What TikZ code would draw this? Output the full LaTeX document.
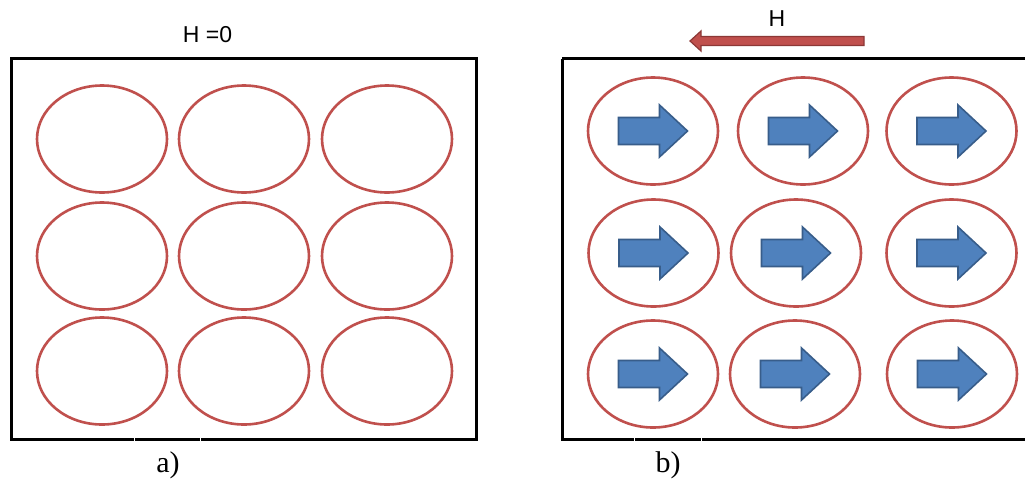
\documentclass[tikz,border=0pt]{standalone}
\usepackage{fontspec}
\setmainfont{Liberation Serif}
\newfontfamily\arialf{Liberation Sans}
\usetikzlibrary{shapes.geometric}
\definecolor{ringred}{HTML}{C0504D}
\definecolor{ringdark}{HTML}{8C3836}
\definecolor{spinblue}{HTML}{4F81BD}
\definecolor{spinedge}{HTML}{385D8A}
\begin{document}
\begin{tikzpicture}[x=1pt,y=-1pt,
  ring/.style={draw=ringred, line width=2.6pt, ellipse, minimum width=130pt, minimum height=107pt, inner sep=0pt},
  frame/.style={draw=black, line width=3pt},
  spin/.style={fill=spinblue, draw=spinedge, line width=1.6pt, line join=miter},
  field/.style={fill=ringred, draw=ringdark, line width=1.2pt},
  hlabel/.style={font=\arialf\fontsize{23}{26}\selectfont, anchor=base, inner sep=0pt},
  panlabel/.style={font=\fontsize{30}{32}\selectfont, anchor=base, inner sep=0pt},
  gap/.style={draw=white, line width=1pt}]
\useasboundingbox (0,0) rectangle (1025,480);
\clip (0,0) rectangle (1025,480);
\fill[white] (0,0) rectangle (1025,480);

% frames
\draw[frame] (11,58.5) rectangle (476,439.5);
\draw[frame] (562,58.5) -- (1040,58.5);
\draw[frame] (562,58.5) -- (562,439.5) -- (1040,439.5);
\draw[gap] (134,437) -- (134,442);
\draw[gap] (200,437) -- (200,442);
\draw[gap] (634,437) -- (634,442);
\draw[gap] (701,437) -- (701,442);

% labels
\node[hlabel] (h0) at (207.5,42) {H =0};
\node[hlabel] (h1) at (777,26) {H};
\node[panlabel] (la) at (168,472) {a)};
\node[panlabel] (lb) at (668,472) {b)};

% field arrow
\draw[field] (690,41) -- (701,31) -- (701,36.5) -- (864,36.5) -- (864,45.5) -- (701,45.5) -- (701,51) -- cycle;

% left panel grains
\node[ring] (a11) at (102,139) {};
\node[ring] (a12) at (244,139) {};
\node[ring] (a13) at (387,139) {};
\node[ring] (a21) at (102,256) {};
\node[ring] (a22) at (244,256) {};
\node[ring] (a23) at (387,256) {};
\node[ring] (a31) at (102,371) {};
\node[ring] (a32) at (244,371) {};
\node[ring] (a33) at (387,371) {};

% right panel grains
\node[ring] (b11) at (653,131) {};
\node[ring] (b12) at (803,131) {};
\node[ring] (b13) at (951.5,131) {};
\node[ring] (b21) at (653.5,253) {};
\node[ring] (b22) at (796,253) {};
\node[ring] (b23) at (951.5,253) {};
\node[ring] (b31) at (653,374) {};
\node[ring] (b32) at (795,374) {};
\node[ring] (b33) at (952,374) {};

% magnetisation arrows
\foreach \g in {b11,b12,b13,b21,b22,b23,b31,b32,b33}{
  \draw[spin, shift={(\g.center)}] (-34.5,-13.5) -- (6.5,-13.5) -- (6.5,-26) -- (34.5,0) -- (6.5,26) -- (6.5,13.5) -- (-34.5,13.5) -- cycle;
}
\end{tikzpicture}
\end{document}
